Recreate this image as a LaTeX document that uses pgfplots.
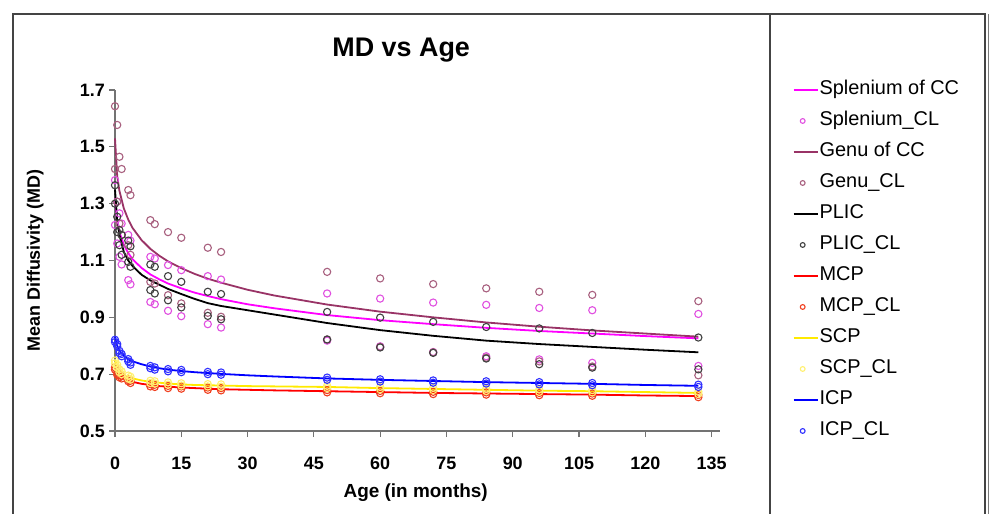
\documentclass[border=0pt]{standalone}
\usepackage{fontspec}
\setmainfont{Liberation Sans}
\usepackage{pgfplots}
\usepackage{pgfplotstable}
\pgfplotsset{compat=1.18}

\definecolor{splenL}{HTML}{FF00FF}
\definecolor{splenC}{HTML}{E050E0}
\definecolor{genuL}{HTML}{993366}
\definecolor{genuC}{HTML}{A8607F}
\definecolor{plicL}{HTML}{000000}
\definecolor{plicC}{HTML}{404040}
\definecolor{mcpL}{HTML}{FF0000}
\definecolor{mcpC}{HTML}{F04020}
\definecolor{scpL}{HTML}{FFEA00}
\definecolor{scpC}{HTML}{FFF070}
\definecolor{icpL}{HTML}{0000FF}
\definecolor{icpC}{HTML}{3030FF}
\definecolor{frame}{HTML}{444444}

% fitted lines: x splen genu plic mcp scp icp
\pgfplotstableread{
x splen genu plic mcp scp icp
0 1.32 1.53 1.35 0.725 0.750 0.830
0.5 1.237 1.397 1.24 0.705 0.725 0.800
1 1.200 1.345 1.19 0.695 0.712 0.782
2 1.155 1.283 1.13 0.684 0.698 0.765
3 1.126 1.244 1.10 0.677 0.690 0.752
4 1.104 1.214 1.08 0.673 0.685 0.745
6 1.074 1.172 1.05 0.666 0.678 0.735
8 1.051 1.141 1.03 0.662 0.673 0.727
10 1.034 1.117 1.015 0.658 0.670 0.721
12 1.019 1.097 1.000 0.656 0.667 0.716
15 1.002 1.073 0.982 0.653 0.664 0.711
18 0.987 1.053 0.965 0.651 0.662 0.707
21 0.975 1.036 0.950 0.649 0.661 0.704
24 0.964 1.022 0.940 0.647 0.660 0.701
30 0.946 0.997 0.925 0.645 0.658 0.696
36 0.932 0.977 0.910 0.643 0.657 0.692
48 0.908 0.945 0.880 0.640 0.655 0.685
60 0.890 0.920 0.855 0.637 0.651 0.680
72 0.876 0.900 0.835 0.634 0.648 0.676
84 0.863 0.882 0.818 0.632 0.645 0.672
96 0.852 0.867 0.806 0.630 0.642 0.669
108 0.843 0.854 0.796 0.628 0.640 0.666
120 0.834 0.843 0.786 0.625 0.637 0.662
132 0.826 0.832 0.777 0.623 0.634 0.659
}\lines

\pgfplotstableread{
x up lo
0 1.383 1.225
0.5 1.307 1.160
1 1.266 1.113
1.5 1.230 1.086
3 1.190 1.031
3.5 1.170 1.016
8 1.113 0.954
9 1.107 0.946
12 1.084 0.923
15 1.066 0.904
21 1.045 0.876
24 1.033 0.864
48 0.984 0.818
60 0.966 0.798
72 0.952 0.778
84 0.944 0.763
96 0.933 0.752
108 0.925 0.740
132 0.912 0.729
}\splenCL

\pgfplotstableread{
x up lo
0 1.643 1.422
0.5 1.577 1.307
1 1.465 1.230
1.5 1.422 1.190
3 1.348 1.154
3.5 1.330 1.120
8 1.242 1.025
9 1.228 1.019
12 1.200 0.978
15 1.180 0.949
21 1.145 0.916
24 1.130 0.902
48 1.060 0.822
60 1.037 0.796
72 1.017 0.777
84 1.002 0.758
96 0.990 0.745
108 0.979 0.727
132 0.957 0.696
}\genuCL

\pgfplotstableread{
x up lo
0 1.365 1.300
0.5 1.254 1.200
1 1.207 1.154
1.5 1.190 1.120
3 1.170 1.095
3.5 1.150 1.078
8 1.086 0.996
9 1.078 0.984
12 1.045 0.960
15 1.025 0.935
21 0.990 0.905
24 0.982 0.893
48 0.919 0.822
60 0.899 0.794
72 0.884 0.775
84 0.866 0.755
96 0.861 0.735
108 0.845 0.723
132 0.829 0.717
}\plicCL

\pgfplotstableread{
x up lo
0 0.724 0.716
0.5 0.706 0.698
1 0.697 0.689
1.5 0.693 0.685
3 0.683 0.675
3.5 0.677 0.669
8 0.665 0.657
9 0.663 0.655
12 0.659 0.651
15 0.657 0.649
21 0.653 0.645
24 0.651 0.643
48 0.644 0.636
60 0.641 0.633
72 0.638 0.630
84 0.636 0.628
96 0.634 0.626
108 0.632 0.624
132 0.627 0.619
}\mcpCL

\pgfplotstableread{
x up lo
0 0.748 0.738
0.5 0.733 0.723
1 0.717 0.707
1.5 0.710 0.700
3 0.695 0.685
3.5 0.691 0.681
8 0.677 0.669
9 0.675 0.667
12 0.671 0.663
15 0.668 0.660
21 0.665 0.657
24 0.664 0.656
48 0.659 0.651
60 0.655 0.647
72 0.652 0.644
84 0.649 0.641
96 0.646 0.638
108 0.644 0.636
132 0.638 0.630
}\scpCL

\pgfplotstableread{
x up lo
0 0.821 0.813
0.5 0.806 0.798
1 0.782 0.774
1.5 0.771 0.763
3 0.753 0.745
3.5 0.741 0.733
8 0.729 0.721
9 0.724 0.716
12 0.718 0.710
15 0.715 0.707
21 0.708 0.700
24 0.706 0.698
48 0.688 0.680
60 0.682 0.674
72 0.678 0.670
84 0.675 0.667
96 0.672 0.664
108 0.669 0.661
132 0.663 0.655
}\icpCL

\begin{document}
\begin{tikzpicture}
\path[use as bounding box] (0bp,0bp) rectangle (994bp,-514bp);
\draw[frame, line width=2bp] (13bp,-514bp) -- (13bp,-14bp) -- (985bp,-14bp) -- (985bp,-514bp);
\draw[frame, line width=1.5bp] (770bp,-14bp) -- (770bp,-514bp);
\draw[frame!70, line width=0.8bp] (988bp,-14bp) -- (988bp,-514bp);
\begin{axis}[
  at={(115bp,-431bp)}, anchor=south west,
  scale only axis, width=605bp, height=341bp,
  xmin=0, xmax=136.9, ymin=0.5, ymax=1.7,
  clip=false,
  axis x line=bottom, axis y line=left,
  axis line style={-, draw=gray!90!black, line width=1.3bp},
  tick style={draw=gray!90!black, line width=1.2bp},
  tick align=outside, major tick length=6bp,
  xtick={0,15,30,45,60,75,90,105,120,135},
  ytick={0.5,0.7,0.9,1.1,1.3,1.5,1.7},
  yticklabels={0.5,0.7,0.9,1.1,1.3,1.5,1.7},
  /pgf/number format/assume math mode=true,
  ticklabel style={font=\bfseries\fontsize{18}{18}\selectfont},
  xticklabel style={inner sep=0pt, anchor=north, yshift=-20bp},
  yticklabel style={inner sep=0pt, anchor=east, xshift=-4bp},
  title={MD vs Age},
  title style={font=\bfseries\fontsize{27}{27}\selectfont, at={(axis description cs:0.473,1.10)}, anchor=center, yshift=0pt},
  xlabel={Age (in months)},
  xlabel style={font=\bfseries\fontsize{19}{19}\selectfont, at={(axis description cs:0.497,-0.18)}, anchor=center},
  ylabel={Mean Diffusivity (MD)},
  ylabel style={font=\bfseries\fontsize{18}{18}\selectfont, at={(axis description cs:-0.132,0.5)}, anchor=center},
  legend cell align=left,
  legend style={draw=none, fill=none, at={(axis description cs:1.12,1.03)}, anchor=north west,
    font=\fontsize{20}{20}\selectfont, inner sep=0pt, row sep=11bp,
    nodes={inner sep=1bp, text height=14bp, text depth=4bp}},
  lineent/.style={line width=1.8bp, legend image code/.code={\draw[##1] (0bp,0bp) -- (24bp,0bp);}},
  markent/.style={only marks, mark=o, mark size=3.6bp, mark options={line width=1.1bp},
    legend image code/.code={\draw[##1, mark size=2.4bp] plot coordinates {(9bp,0bp)};}},
]
\addplot[lineent, color=splenL] table[x=x, y=splen] {\lines};
\addlegendentry{Splenium of CC}
\addplot[markent, color=splenC, forget plot] table[x=x, y=up] {\splenCL};
\addplot[markent, color=splenC] table[x=x, y=lo] {\splenCL};
\addlegendentry{Splenium\_CL}
\addplot[lineent, color=genuL] table[x=x, y=genu] {\lines};
\addlegendentry{Genu of CC}
\addplot[markent, color=genuC, forget plot] table[x=x, y=up] {\genuCL};
\addplot[markent, color=genuC] table[x=x, y=lo] {\genuCL};
\addlegendentry{Genu\_CL}
\addplot[lineent, color=plicL] table[x=x, y=plic] {\lines};
\addlegendentry{PLIC}
\addplot[markent, color=plicC, forget plot] table[x=x, y=up] {\plicCL};
\addplot[markent, color=plicC] table[x=x, y=lo] {\plicCL};
\addlegendentry{PLIC\_CL}
\addplot[lineent, color=mcpL] table[x=x, y=mcp] {\lines};
\addlegendentry{MCP}
\addplot[markent, color=mcpC, forget plot] table[x=x, y=up] {\mcpCL};
\addplot[markent, color=mcpC] table[x=x, y=lo] {\mcpCL};
\addlegendentry{MCP\_CL}
\addplot[lineent, color=scpL] table[x=x, y=scp] {\lines};
\addlegendentry{SCP}
\addplot[markent, color=scpC, forget plot] table[x=x, y=up] {\scpCL};
\addplot[markent, color=scpC] table[x=x, y=lo] {\scpCL};
\addlegendentry{SCP\_CL}
\addplot[lineent, color=icpL] table[x=x, y=icp] {\lines};
\addlegendentry{ICP}
\addplot[markent, color=icpC, forget plot] table[x=x, y=up] {\icpCL};
\addplot[markent, color=icpC] table[x=x, y=lo] {\icpCL};
\addlegendentry{ICP\_CL}
\end{axis}
\end{tikzpicture}
\end{document}
